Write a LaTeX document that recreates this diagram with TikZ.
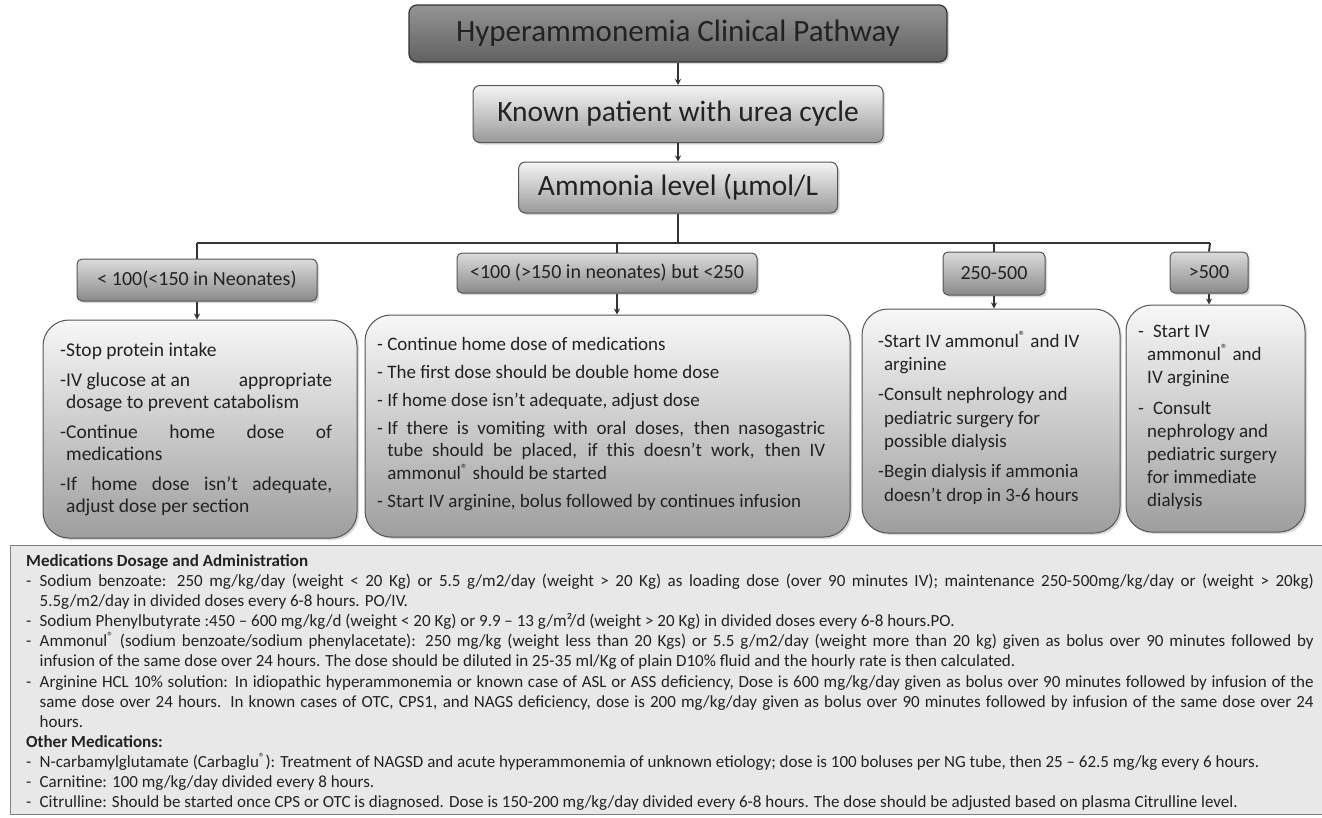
\documentclass[tikz,border=0pt]{standalone}
\usepackage{fontspec}
\setmainfont{Carlito}
\usetikzlibrary{arrows.meta,shadows}
\definecolor{ink}{HTML}{222222}
\definecolor{edge}{HTML}{555555}
\newcommand\jl[2]{\makebox[#1pt][s]{#2}}
\newcommand\itm{\makebox[13.5pt][l]{-}}
\newcommand\cnt{\hspace*{13.5pt}}
\newcommand\reg{\textsuperscript{®}}
\tikzset{
  shade/.style={drop shadow={opacity=0.3,shadow xshift=2pt,shadow yshift=-2pt}},
  titlebox/.style={draw=black!80, line width=1.2pt, rounded corners=8pt, top color=black!42, bottom color=black!62, text=ink, shade, font=\fontsize{31}{36}\selectfont},
  hdrbox/.style={draw=edge, line width=1pt, rounded corners=7pt, top color=black!4, bottom color=black!40, text=ink, shade, font=\fontsize{29.5}{34}\selectfont},
  lvlbox/.style={draw=edge, line width=1pt, rounded corners=5pt, top color=black!14, bottom color=black!46, text=ink, shade, font=\fontsize{20}{24}\selectfont},
  bigbox/.style={draw=edge, line width=1pt, rounded corners=26pt, top color=black!3, bottom color=black!38, shade},
  boxtext/.style={anchor=west, inner sep=0pt, align=left, text=ink},
  medbox/.style={draw=black!50, line width=1.2pt, fill=black!9, anchor=north west},
  conn/.style={draw=black!80, line width=1.9pt},
  arr/.style={conn, -{Stealth[length=6pt,width=6pt]}}
}
\begin{document}
\begin{tikzpicture}[x=1pt,y=-1pt]
\useasboundingbox (0,0) rectangle (1322,817);
\fill[white] (0,0) rectangle (1322,817);
\clip (0,0) rectangle (1322,817);

% header chain
\node[titlebox, minimum width=538pt, minimum height=57pt] (title) at (678,33.5) {Hyperammonemia Clinical Pathway};
\node[hdrbox, minimum width=410pt, minimum height=57pt] (known) at (678,114) {Known patient with urea cycle};
\node[hdrbox, minimum width=319pt, minimum height=51pt] (amm) at (678,187.5) {Ammonia level (µmol/L};

\coordinate (busL) at (197,243);
\coordinate (busR) at (1210,243);

% level boxes
\node[lvlbox, minimum width=240pt, minimum height=42pt] (lvA) at (197,280) {< 100(<150 in Neonates)};
\node[lvlbox, minimum width=300pt, minimum height=40pt] (lvB) at (607,273) {<100 (>150 in neonates) but <250};
\node[lvlbox, minimum width=102pt, minimum height=43pt] (lvC) at (994,273.5) {250-500};
\node[lvlbox, minimum width=78pt, minimum height=41pt] (lvD) at (1209,272.5) {>500};
\coordinate (jB) at (617,243);

% big boxes
\node[bigbox, minimum width=314pt, minimum height=218pt] (bigA) at (200,429) {};
\node[bigbox, minimum width=485pt, minimum height=222pt] (bigB) at (607.5,426) {};
\node[bigbox, minimum width=258pt, minimum height=224pt] (bigC) at (991,421) {};
\node[bigbox, minimum width=179pt, minimum height=227pt] (bigD) at (1215.5,418.5) {};

% connectors
\draw[arr] (title.south) -- (known.north);
\draw[arr] (known.south) -- (amm.north);
\draw[conn] (amm.south) -- (amm.south |- busL);
\draw[conn] (busL) -- (busR);
\draw[conn] (busL) -- (lvA.north);
\draw[conn] (jB) -- (jB |- lvB.north);
\draw[conn] (lvC.north |- busL) -- (lvC.north);
\draw[conn] (busR) -- (lvD.north);
\draw[arr] (lvA.south) -- (lvA.south |- bigA.north);
\draw[arr] (jB |- lvB.south) -- (jB |- bigB.north);
\draw[arr] (lvC.south) -- (lvC.south |- bigC.north);
\draw[arr] (lvD.south) -- (lvD.south |- bigD.north);

% box texts
\node[boxtext, font=\fontsize{19.5}{22}\selectfont] (tA) at (60,429) {-Stop protein intake\\[8pt]
-\jl{266}{IV glucose at an\hfill appropriate}\\
\phantom{-}dosage to prevent catabolism\\[8pt]
-\jl{266}{Continue home dose of}\\
\phantom{-}medications\\[8pt]
-\jl{266}{If home dose isn't adequate,}\\
\phantom{-}adjust dose per section};

\node[boxtext, font=\fontsize{19}{22.5}\selectfont] (tB) at (377,424) {\mbox{- }Continue home dose of medications\\[5.5pt]
\mbox{- }The first dose should be double home dose\\[5.5pt]
\mbox{- }If home dose isn't adequate, adjust dose\\[5.5pt]
\mbox{- }\jl{438}{If there is vomiting with oral doses, then nasogastric}\\
\phantom{- }\jl{438}{tube should be placed, if this doesn't work, then IV}\\
\phantom{- }ammonul\reg{} should be started\\[5.5pt]
\mbox{- }Start IV arginine, bolus followed by continues infusion};

\node[boxtext, font=\fontsize{19}{23.5}\selectfont] (tC) at (878,418) {-Start IV ammonul\reg{} and IV\\
\phantom{-}arginine\\[6.5pt]
-Consult nephrology and\\
\phantom{-}pediatric surgery for\\
\phantom{-}possible dialysis\\[6.5pt]
-Begin dialysis if ammonia\\
\phantom{-}doesn't drop in 3-6 hours};

\node[boxtext, font=\fontsize{19}{23}\selectfont] (tD) at (1138,417) {-\hspace{9pt}Start IV\\
\hspace*{9pt}ammonul\reg{} and\\
\hspace*{9pt}IV arginine\\[8pt]
-\hspace{9pt}Consult\\
\hspace*{9pt}nephrology and\\
\hspace*{9pt}pediatric surgery\\
\hspace*{9pt}for immediate\\
\hspace*{9pt}dialysis};

% medications panel
\node[medbox, minimum width=1330pt, minimum height=269pt] (med) at (10,545) {};
\node[boxtext, font=\fontsize{17}{20.1}\selectfont] (medtext) at (26,682.5) {\textbf{Medications Dosage and Administration}\\
\itm\jl{1274}{Sodium benzoate: 250 mg/kg/day (weight < 20 Kg) or 5.5 g/m2/day (weight > 20 Kg) as loading dose (over 90 minutes IV); maintenance 250-500mg/kg/day or (weight > 20kg)}\\
\cnt 5.5g/m2/day in divided doses every 6-8 hours. PO/IV.\\
\itm Sodium Phenylbutyrate :450 – 600 mg/kg/d (weight < 20 Kg) or 9.9 – 13 g/m²/d (weight > 20 Kg) in divided doses every 6-8 hours.PO.\\
\itm\jl{1274}{Ammonul\reg{} (sodium benzoate/sodium phenylacetate): 250 mg/kg (weight less than 20 Kgs) or 5.5 g/m2/day (weight more than 20 kg) given as bolus over 90 minutes followed by}\\
\cnt infusion of the same dose over 24 hours. The dose should be diluted in 25-35 ml/Kg of plain D10\% fluid and the hourly rate is then calculated.\\
\itm\jl{1274}{Arginine HCL 10\% solution: In idiopathic hyperammonemia or known case of ASL or ASS deficiency, Dose is 600 mg/kg/day given as bolus over 90 minutes followed by infusion of the}\\
\cnt\jl{1274}{same dose over 24 hours. In known cases of OTC, CPS1, and NAGS deficiency, dose is 200 mg/kg/day given as bolus over 90 minutes followed by infusion of the same dose over 24}\\
\cnt hours.\\
\textbf{Other Medications:}\\
\itm N-carbamylglutamate (Carbaglu\reg): Treatment of NAGSD and acute hyperammonemia of unknown etiology; dose is 100 boluses per NG tube, then 25 – 62.5 mg/kg every 6 hours.\\
\itm Carnitine: 100 mg/kg/day divided every 8 hours.\\
\itm Citrulline: Should be started once CPS or OTC is diagnosed. Dose is 150-200 mg/kg/day divided every 6-8 hours. The dose should be adjusted based on plasma Citrulline level.};
\end{tikzpicture}
\end{document}
